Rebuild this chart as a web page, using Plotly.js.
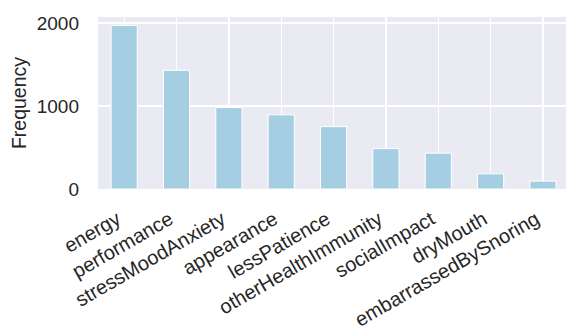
<!DOCTYPE html>
<html>
<head>
<meta charset="utf-8">
<script src="https://cdn.plot.ly/plotly-3.0.1.min.js"></script>
<style>html,body{margin:0;padding:0;background:#fff;}#chart{width:566px;height:329px;}</style>
</head>
<body>
<div id="chart"></div>
<script>
const categories = ["energy","performance","stressMoodAnxiety","appearance","lessPatience","otherHealthImmunity","socialImpact","dryMouth","embarrassedBySnoring"];
const frequency = [1972, 1431, 982, 894, 752, 487, 432, 183, 95];
const yTicks = [0, 1000, 2000];

const positions = categories.map((c, i) => i);

const trace = {
  type: "bar",
  x: positions,
  y: frequency,
  width: 0.5,
  marker: {color: "#a6cee3", line: {color: "#ffffff", width: 1}},
  hoverinfo: "none"
};

const layout = {
  width: 566, height: 329,
  margin: {l: 98, r: 0, t: 17, b: 140},
  paper_bgcolor: "#ffffff",
  plot_bgcolor: "#eaeaf2",
  font: {family: "Liberation Sans, Arial, sans-serif", color: "#262626", size: 19},
  showlegend: false,
  bargap: 0,
  xaxis: {
    range: [-0.5, 8.44],
    tickmode: "array",
    tickvals: positions,
    ticktext: categories,
    tickangle: -30,
    showgrid: true, gridcolor: "#ffffff", gridwidth: 1.3,
    zeroline: false, showline: false, ticks: "",
    ticklabelstandoff: 14,
    ticklabelshift: -7,
    tickfont: {size: 20, color: "#262626"}
  },
  yaxis: {
    range: [0, 2074],
    tickmode: "array",
    tickvals: yTicks,
    ticktext: yTicks.map(String),
    showgrid: true, gridcolor: "#ffffff", gridwidth: 1.3,
    zeroline: false, showline: false, ticks: "",
    ticklabelstandoff: 18,
    tickfont: {size: 19, color: "#262626"},
    title: {text: "Frequency", font: {size: 19.5, color: "#262626"}, standoff: 4}
  }
};

Plotly.newPlot("chart", [trace], layout, {staticPlot: true, displayModeBar: false});
</script>
</body>
</html>
